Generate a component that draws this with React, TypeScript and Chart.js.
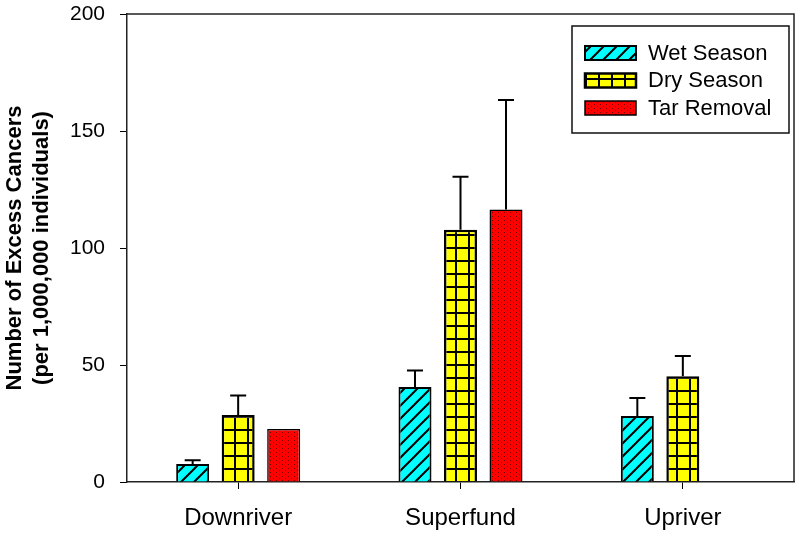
import React, { useEffect, useRef } from 'react';
import { Chart, registerables } from 'chart.js';
Chart.register(...registerables);

const categories = ['Downriver', 'Superfund', 'Upriver'];
const seriesLabels = ['Wet Season', 'Dry Season', 'Tar Removal'];
const wetValues = [7.7, 40.6, 28.2];
const wetErrors = [1.6, 7.0, 7.7];
const dryValues = [28.6, 107.8, 45.2];
const dryErrors = [8.4, 22.7, 8.6];
const tarValues: (number | null)[] = [22.6, 116.5, null];
const tarErrors: (number | null)[] = [null, 46.7, null];
const yTicks = [0, 50, 100, 150, 200];
const yTitle = ['Number of Excess Cancers', '(per 1,000,000 individuals)'];

const FONT = "'Liberation Sans', Arial, Helvetica, sans-serif";

function makePattern(kind: 'wet' | 'dry' | 'tar'): CanvasPattern | string {
  const c = document.createElement('canvas');
  const ctx = c.getContext('2d');
  if (!ctx) return '#fff';
  if (kind === 'wet') {
    const s = 13;
    c.width = s; c.height = s;
    ctx.fillStyle = '#00FFFF';
    ctx.fillRect(0, 0, s, s);
    ctx.strokeStyle = '#000';
    ctx.lineWidth = 2;
    ctx.beginPath();
    ctx.moveTo(-2, s + 2); ctx.lineTo(s + 2, -2);
    ctx.moveTo(-2, 2); ctx.lineTo(2, -2);
    ctx.moveTo(s - 2, s + 2); ctx.lineTo(s + 2, s - 2);
    ctx.stroke();
  } else if (kind === 'dry') {
    const s = 13;
    c.width = s; c.height = s;
    ctx.fillStyle = '#FFFF00';
    ctx.fillRect(0, 0, s, s);
    ctx.fillStyle = '#000';
    ctx.fillRect(0, 0, s, 2);
    ctx.fillRect(0, 0, 2, s);
  } else {
    c.width = 6; c.height = 4;
    ctx.fillStyle = '#FF0000';
    ctx.fillRect(0, 0, 6, 4);
    ctx.fillStyle = '#7a0000';
    ctx.fillRect(0, 0, 1, 1);
    ctx.fillRect(3, 2, 1, 1);
  }
  const p = ctx.createPattern(c, 'repeat');
  return p || '#fff';
}

const frameLegendErrorPlugin = {
  id: 'frameLegendError',
  afterDatasetsDraw(chart: any) {
    const ctx = chart.ctx;
    const yScale = chart.scales.y;
    ctx.save();
    ctx.strokeStyle = '#000';
    ctx.lineWidth = 2;
    chart.data.datasets.forEach((ds: any, i: number) => {
      const meta = chart.getDatasetMeta(i);
      meta.data.forEach((el: any, j: number) => {
        const v = ds.data[j];
        const e = ds.errors ? ds.errors[j] : null;
        if (v == null || e == null) return;
        const yTop = yScale.getPixelForValue(v + e);
        const y0 = el.y;
        ctx.beginPath();
        ctx.moveTo(el.x, y0);
        ctx.lineTo(el.x, yTop);
        ctx.moveTo(el.x - 8, yTop);
        ctx.lineTo(el.x + 8, yTop);
        ctx.stroke();
      });
    });
    ctx.restore();
  },
  afterDraw(chart: any) {
    const ctx = chart.ctx;
    const a = chart.chartArea;
    ctx.save();
    ctx.strokeStyle = '#222';
    ctx.lineWidth = 1.5;
    ctx.beginPath();
    ctx.moveTo(a.left, a.top);
    ctx.lineTo(a.right, a.top);
    ctx.lineTo(a.right, a.bottom);
    ctx.stroke();
    const bx = a.right - 222;
    const by = a.top + 12;
    const bw = 217;
    const bh = 107;
    ctx.fillStyle = '#fff';
    ctx.fillRect(bx, by, bw, bh);
    ctx.strokeStyle = '#111';
    ctx.lineWidth = 1.5;
    ctx.strokeRect(bx, by, bw, bh);
    chart.data.datasets.forEach((ds: any, i: number) => {
      const sy = by + 20 + i * 27.5;
      const sx = bx + 13;
      ctx.fillStyle = ds.backgroundColor;
      ctx.fillRect(sx, sy, 51, 14);
      ctx.strokeStyle = '#000';
      ctx.lineWidth = ds.borderWidth;
      ctx.strokeRect(sx, sy, 51, 14);
      ctx.fillStyle = '#000';
      ctx.font = `22px ${FONT}`;
      ctx.textBaseline = 'middle';
      ctx.textAlign = 'left';
      ctx.fillText(ds.label, bx + 76, sy + 7.5);
    });
    ctx.restore();
  },
};

export default function App() {
  const ref = useRef<HTMLCanvasElement | null>(null);
  useEffect(() => {
    if (!ref.current) return;
    const chart = new Chart(ref.current, {
      type: 'bar',
      data: {
        labels: categories,
        datasets: [
          { label: seriesLabels[0], data: wetValues, errors: wetErrors, backgroundColor: makePattern('wet'), borderColor: '#000', borderWidth: 2 } as any,
          { label: seriesLabels[1], data: dryValues, errors: dryErrors, backgroundColor: makePattern('dry'), borderColor: '#000', borderWidth: 2.5 } as any,
          { label: seriesLabels[2], data: tarValues, errors: tarErrors, backgroundColor: makePattern('tar'), borderColor: '#000', borderWidth: 1.5 } as any,
        ],
      },
      options: {
        responsive: false,
        animation: false,
        layout: { padding: { top: 14, right: 6, left: 0, bottom: 0 } },
        plugins: { legend: { display: false }, tooltip: { enabled: false } },
        datasets: { bar: { categoryPercentage: 0.614, barPercentage: 0.725 } },
        scales: {
          x: {
            afterFit: (s: any) => { s.height = 54; },
            grid: { offset: false, drawOnChartArea: false, drawTicks: true, tickLength: 7, color: '#000', lineWidth: 1 },
            border: { display: true, color: '#222', width: 1.5 },
            ticks: { color: '#000', padding: 15, font: { family: FONT, size: 24 } },
          },
          y: {
            min: 0,
            max: 200,
            afterFit: (s: any) => { s.width = 127; s.paddingTop = 0; s.paddingBottom = 0; },
            afterBuildTicks: (s: any) => { s.ticks = yTicks.map((v) => ({ value: v })); },
            grid: { drawOnChartArea: false, drawTicks: true, tickLength: 7, color: '#000', lineWidth: 1 },
            border: { display: true, color: '#222', width: 1.5 },
            ticks: { color: '#000', padding: 15, font: { family: FONT, size: 21 } },
            title: { display: true, text: yTitle, color: '#000', padding: { top: 2, bottom: 0 }, font: { family: FONT, size: 22, weight: 'bold', lineHeight: 1.2 } },
          },
        },
      } as any,
      plugins: [frameLegendErrorPlugin],
    });
    return () => chart.destroy();
  }, []);
  return (
    <div style={{ position: 'absolute', left: 0, top: 0, width: 800, height: 536, background: '#fff' }}>
      <canvas ref={ref} width={800} height={536} style={{ display: 'block' }} />
    </div>
  );
}
